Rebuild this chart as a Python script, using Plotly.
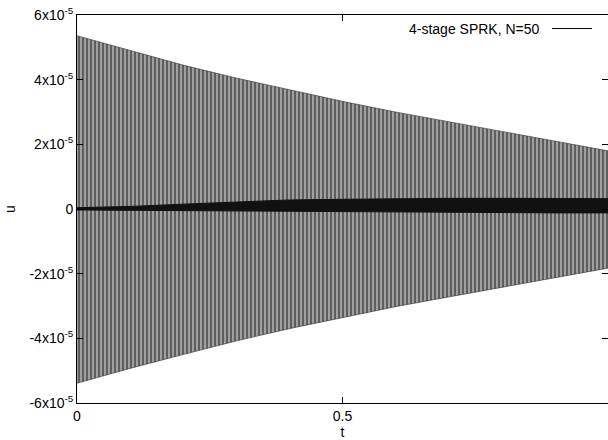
import plotly.graph_objects as go

# ---- data (units of 1e-5 for envelopes, 1e-6 for the central band) ----
t_nodes = [0.0, 0.1, 0.2, 0.3, 0.4, 0.5, 0.6, 0.7, 0.8, 0.9, 1.0]
upper_env = [5.36, 4.90, 4.45, 4.05, 3.68, 3.33, 3.00, 2.70, 2.40, 2.10, 1.80]
lower_env = [-5.39, -4.93, -4.50, -4.08, -3.70, -3.35, -3.02, -2.72, -2.42, -2.12, -1.83]
mid_hi = [0.4, 0.8, 1.5, 2.2, 2.8, 3.0, 3.2, 3.3, 3.3, 3.2, 3.2]
mid_lo = [-0.3, -0.4, -0.5, -0.6, -0.8, -1.0, -1.1, -1.2, -1.2, -1.2, -1.2]

y_ticks = [-6e-5, -4e-5, -2e-5, 0, 2e-5, 4e-5, 6e-5]
y_tick_labels = ["-6x10<sup>-5</sup>", "-4x10<sup>-5</sup>", "-2x10<sup>-5</sup>", "0",
                 "2x10<sup>-5</sup>", "4x10<sup>-5</sup>", "6x10<sup>-5</sup>"]
x_ticks = [0, 0.5, 1.0]
x_tick_labels = ["0", "0.5", ""]
series_name = "4-stage SPRK, N=50"

up = [v * 1e-5 for v in upper_env]
lo = [v * 1e-5 for v in lower_env]
mh = [v * 1e-6 for v in mid_hi]
ml = [v * 1e-6 for v in mid_lo]

FONT = "Liberation Sans, Arial, Helvetica, sans-serif"
FS = 14

fig = go.Figure()
# oscillation envelope: dense vertical strokes rendered as a striped fill
fig.add_trace(go.Scatter(x=t_nodes, y=lo, mode="lines", line=dict(color="#333", width=0.6),
                         showlegend=False, hoverinfo="skip"))
fig.add_trace(go.Scatter(x=t_nodes, y=up, mode="lines", line=dict(color="#333", width=0.6),
                         fill="tonexty", fillcolor="#a0a0a0",
                         fillpattern=dict(shape="|", size=4, solidity=0.5,
                                          fgcolor="#1c1c1c", bgcolor="#a0a0a0"),
                         showlegend=False, hoverinfo="skip"))
# dark central band
fig.add_trace(go.Scatter(x=t_nodes, y=ml, mode="lines", line=dict(color="#111", width=1),
                         showlegend=False, hoverinfo="skip"))
fig.add_trace(go.Scatter(x=t_nodes, y=mh, mode="lines", line=dict(color="#111", width=1),
                         fill="tonexty", fillcolor="#111",
                         showlegend=False, hoverinfo="skip"))

# gnuplot-style key (text then sample line)
ky = 1 - (29 - 15.5) / 387.5
fig.add_annotation(xref="paper", yref="paper", x=(542 - 77) / 531, y=ky,
                   xanchor="right", yanchor="middle", text=series_name,
                   showarrow=False, font=dict(family=FONT, size=FS, color="black"))
fig.add_shape(type="line", xref="paper", yref="paper",
              x0=(552 - 77) / 531, x1=(592 - 77) / 531, y0=ky, y1=ky,
              line=dict(color="black", width=1))

axis_font = dict(family=FONT, size=FS, color="black")
fig.update_layout(
    width=608, height=440,
    margin=dict(l=77, r=0, t=15, b=37),
    paper_bgcolor="white", plot_bgcolor="white",
    showlegend=False,
    font=axis_font,
    xaxis=dict(range=[0, 1], tickvals=x_ticks, ticktext=x_tick_labels,
               ticks="inside", ticklen=6, tickcolor="black",
               showline=True, linecolor="black", linewidth=1, mirror="ticks",
               showgrid=False, zeroline=False, tickfont=axis_font,
               title=dict(text="t", font=axis_font, standoff=3)),
    yaxis=dict(range=[-6e-5, 6e-5], tickvals=y_ticks, ticktext=y_tick_labels,
               ticks="inside", ticklen=6, tickcolor="black",
               showline=True, linecolor="black", linewidth=1, mirror=False,
               showgrid=False, zeroline=False, tickfont=axis_font,
               title=dict(text="u", font=axis_font, standoff=10)),
    yaxis2=dict(range=[-6e-5, 6e-5], overlaying="y", side="right", tickvals=y_ticks,
                showticklabels=False, ticks="inside", ticklen=6, tickcolor="black",
                showline=False, showgrid=False, zeroline=False),
)
# empty trace to activate right-side mirror ticks
fig.add_trace(go.Scatter(x=[None], y=[None], yaxis="y2", showlegend=False, hoverinfo="skip"))

fig.write_html("out.html")
